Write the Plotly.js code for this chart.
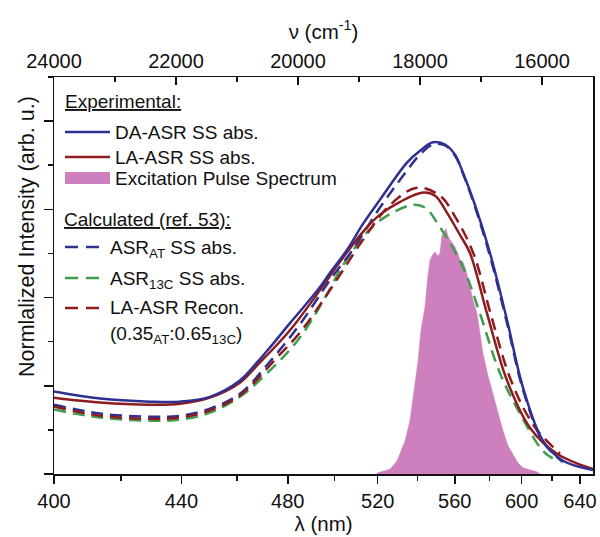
<!DOCTYPE html>
<html><head><meta charset="utf-8">
<script src="https://cdn.plot.ly/plotly-3.0.1.min.js"></script>
<style>html,body{margin:0;padding:0;background:#fff}#chart{width:600px;height:537px}</style>
</head><body><div id="chart"></div>
<script>
// wavelengths in nm, intensities in arbitrary units
const daWl = [400.0, 413.6, 429.4, 439.5, 450.0, 461.1, 467.7, 472.8, 480.9, 485.1, 493.6, 498.0, 505.6, 513.0, 521.1, 534.5, 541.2, 548.1, 554.6, 560.1, 564.6, 571.5, 580.4, 590.8, 600.9, 614.1, 627.8, 649.6];
const daVal = [0.187, 0.171, 0.164, 0.164, 0.175, 0.212, 0.253, 0.287, 0.342, 0.369, 0.424, 0.456, 0.508, 0.567, 0.622, 0.706, 0.733, 0.752, 0.747, 0.724, 0.683, 0.610, 0.501, 0.349, 0.196, 0.075, 0.030, 0.009];

const laWl = [400.0, 413.6, 429.4, 439.5, 450.0, 461.1, 467.7, 480.9, 493.6, 502.4, 513.0, 521.1, 531.0, 542.8, 549.2, 555.7, 562.9, 568.6, 578.6, 590.8, 605.4, 623.6, 649.6];
const laVal = [0.173, 0.162, 0.157, 0.159, 0.173, 0.207, 0.246, 0.326, 0.417, 0.481, 0.549, 0.588, 0.617, 0.638, 0.631, 0.592, 0.542, 0.501, 0.364, 0.212, 0.105, 0.046, 0.011];

const pulseWl = [519.7, 526.0, 529.5, 533.5, 536.0, 538.1, 540.2, 541.7, 543.8, 545.4, 546.5, 548.1, 549.2, 550.8, 551.8, 552.9, 554.0, 555.1, 556.2, 557.3, 559.0, 560.1, 561.8, 562.9, 564.6, 566.3, 568.6, 570.4, 572.7, 574.4, 576.2, 579.2, 582.2, 585.2, 588.3, 591.4, 594.5, 597.7, 600.9, 605.4, 610.0, 612.1];
const pulseVal = [0.002, 0.011, 0.030, 0.075, 0.121, 0.189, 0.257, 0.326, 0.378, 0.451, 0.485, 0.499, 0.503, 0.494, 0.501, 0.540, 0.549, 0.556, 0.540, 0.531, 0.522, 0.515, 0.499, 0.485, 0.481, 0.462, 0.424, 0.394, 0.364, 0.319, 0.273, 0.223, 0.182, 0.137, 0.098, 0.064, 0.046, 0.025, 0.014, 0.009, 0.005, 0.0];

const atWl = [400.0, 413.6, 429.4, 439.5, 450.0, 461.1, 472.8, 485.1, 498.0, 507.0, 521.1, 531.0, 541.2, 548.1, 554.6, 560.1, 564.6, 571.5, 580.4, 590.8, 600.9, 614.1, 627.8];
const atVal = [0.157, 0.137, 0.130, 0.132, 0.148, 0.182, 0.255, 0.340, 0.440, 0.500, 0.604, 0.667, 0.724, 0.747, 0.745, 0.722, 0.681, 0.606, 0.494, 0.342, 0.191, 0.073, 0.027];

const c13Wl = [400.0, 413.6, 429.4, 439.5, 450.0, 461.1, 472.8, 485.1, 498.0, 502.4, 513.0, 521.1, 537.1, 543.8, 551.8, 564.6, 574.4, 586.5, 599.0, 614.1, 623.6];
const c13Val = [0.146, 0.128, 0.121, 0.123, 0.139, 0.175, 0.235, 0.310, 0.420, 0.462, 0.537, 0.575, 0.610, 0.604, 0.560, 0.469, 0.364, 0.228, 0.137, 0.052, 0.030];

const reconWl = [400.0, 413.6, 429.4, 439.5, 450.0, 461.1, 475.6, 485.1, 498.0, 513.0, 526.0, 539.6, 551.8, 561.2, 570.9, 581.0, 593.3, 608.1, 625.7];
const reconVal = [0.153, 0.132, 0.125, 0.128, 0.144, 0.178, 0.264, 0.321, 0.417, 0.531, 0.610, 0.649, 0.631, 0.576, 0.497, 0.360, 0.212, 0.109, 0.046];

// axis ticks
const nmTicks = [400, 440, 480, 520, 560, 600, 640];
const nmMinor = [420, 460, 500, 540, 580, 620];
const wnTicks = [24000, 22000, 20000, 18000, 16000];
const wnMinor = [23000, 21000, 19000, 17000];
const yMajor = [0, 0.2, 0.4, 0.6, 0.8];
const yMinor = [0.1, 0.3, 0.5, 0.7, 0.9];

const toWn = a => a.map(l => 1e7 / l);

const BLUE = '#2e3192', RED = '#8e1b1e', GREEN = '#3f9e4e', PINK = '#cd80bd';
const FONT = 'Liberation Sans, Arial, Helvetica, sans-serif';
const DASH = '12px,7px';

const traces = [
  {x: toWn(pulseWl), y: pulseVal, type: 'scatter', mode: 'lines', fill: 'tozeroy',
   fillcolor: PINK, line: {color: PINK, width: 0.5}, name: 'Excitation Pulse Spectrum'},
  {x: toWn(c13Wl), y: c13Val, mode: 'lines', line: {color: GREEN, width: 2.5, dash: DASH, shape: 'spline'}, name: 'ASR13C SS abs.'},
  {x: toWn(atWl), y: atVal, mode: 'lines', line: {color: BLUE, width: 2.5, dash: DASH, shape: 'spline'}, name: 'ASRAT SS abs.'},
  {x: toWn(reconWl), y: reconVal, mode: 'lines', line: {color: RED, width: 2.5, dash: DASH, shape: 'spline'}, name: 'LA-ASR Recon.'},
  {x: toWn(laWl), y: laVal, mode: 'lines', line: {color: RED, width: 2.5, shape: 'spline'}, name: 'LA-ASR SS abs.'},
  {x: toWn(daWl), y: daVal, mode: 'lines', line: {color: BLUE, width: 2.5, shape: 'spline'}, name: 'DA-ASR SS abs.'}
];

const L = 54, R = 593, T = 77, B = 474;
const px = v => (v - L) / (R - L);
const py = v => (B - v) / (B - T);

const legText = (txt, xp, yp, extra) => Object.assign({
  text: txt, xref: 'paper', yref: 'paper', x: px(xp), y: py(yp),
  xanchor: 'left', yanchor: 'middle', showarrow: false,
  font: {family: FONT, size: 19, color: '#111'}
}, extra || {});

const annotations = [
  legText('<u>Experimental:</u>', 63, 101),
  legText('DA-ASR SS abs.', 113, 132),
  legText('LA-ASR SS abs.', 113, 157),
  legText('Excitation Pulse Spectrum', 113, 178),
  legText('<u>Calculated (ref. 53):</u>', 62, 220),
  legText('ASR<sub>AT</sub> SS abs.', 108, 249),
  legText('ASR<sub>13C</sub> SS abs.', 108, 280),
  legText('LA-ASR Recon.', 108, 307),
  legText('(0.35<sub>AT</sub>:0.65<sub>13C</sub>)', 108, 335),
  {text: 'Normlalized Intensity (arb. u.)', xref: 'paper', yref: 'paper', x: px(27), y: py(237),
   xanchor: 'center', yanchor: 'middle', textangle: -90, showarrow: false,
   font: {family: FONT, size: 21.5, color: '#111'}}
];

const legLine = (x0, x1, yy, color, dash) => ({
  type: 'line', xref: 'paper', yref: 'paper', x0: px(x0), x1: px(x1), y0: py(yy), y1: py(yy),
  line: {color: color, width: 2.5, dash: dash || 'solid'}
});
const shapes = [
  legLine(65, 110, 132, BLUE),
  legLine(65, 110, 157, RED),
  {type: 'rect', xref: 'paper', yref: 'paper', x0: px(65), x1: px(110), y0: py(184), y1: py(172),
   fillcolor: PINK, line: {width: 0}},
  legLine(65, 99, 247, BLUE, '13px,8px'),
  legLine(65, 99, 278, GREEN, '13px,8px'),
  legLine(65, 99, 308, RED, '13px,8px')
];

const axisBase = {
  showgrid: false, zeroline: false, showline: true, linecolor: '#111', linewidth: 1.5,
  tickcolor: '#111', tickwidth: 1.5, tickfont: {family: FONT, size: 20, color: '#111'}
};

const layout = {
  width: 600, height: 537,
  margin: {l: L, r: 600 - R, t: T, b: 537 - B, pad: 0},
  paper_bgcolor: '#fff', plot_bgcolor: '#fff',
  showlegend: false,
  xaxis: Object.assign({}, axisBase, {
    range: [1e7 / 400, 1e7 / 649.6], tickmode: 'array', tickvals: toWn(nmTicks),
    ticktext: nmTicks.map(String), ticks: 'outside', ticklen: 8,
    minor: {tickmode: 'array', tickvals: toWn(nmMinor), ticks: 'outside', ticklen: 5, tickwidth: 1.5, tickcolor: '#111'},
    title: {text: 'λ (nm)', font: {family: FONT, size: 20.5, color: '#111'}, standoff: 6}
  }),
  xaxis2: Object.assign({}, axisBase, {
    overlaying: 'x', side: 'top', anchor: 'y',
    range: [24000, 15164], tickmode: 'array', tickvals: wnTicks, ticktext: wnTicks.map(String),
    ticks: 'inside', ticklen: 8,
    minor: {tickmode: 'array', tickvals: wnMinor, ticks: 'inside', ticklen: 5, tickwidth: 1.5, tickcolor: '#111'},
    title: {text: 'ν (cm<sup>-1</sup>)', font: {family: FONT, size: 20.5, color: '#111'}, standoff: 4}
  }),
  yaxis: Object.assign({}, axisBase, {
    range: [0, 0.9], mirror: true, tickmode: 'array', tickvals: yMajor, ticks: 'outside', ticklen: 9,
    showticklabels: false,
    minor: {tickmode: 'array', tickvals: yMinor, ticks: 'outside', ticklen: 5, tickwidth: 1.5, tickcolor: '#111'}
  }),
  annotations: annotations,
  shapes: shapes
};

traces.push({x: wnTicks, y: wnTicks.map(() => null), xaxis: 'x2', yaxis: 'y', mode: 'lines',
  hoverinfo: 'skip', showlegend: false});

Plotly.newPlot('chart', traces, layout, {staticPlot: true, displayModeBar: false});
</script>
</body></html>
